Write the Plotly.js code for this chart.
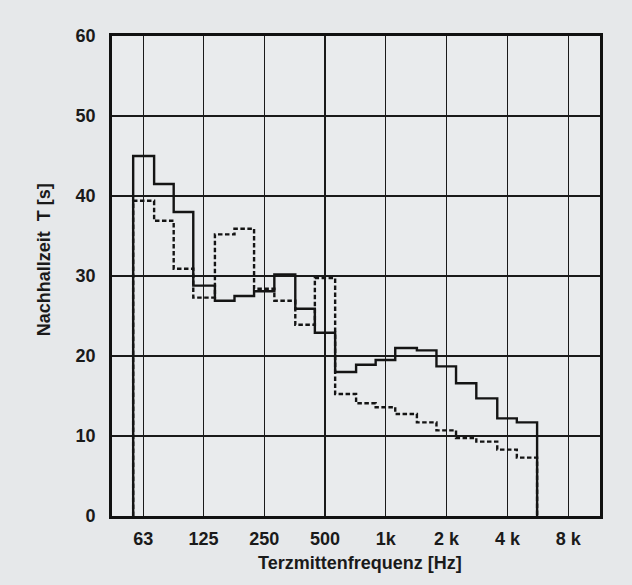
<!DOCTYPE html>
<html>
<head>
<meta charset="utf-8">
<script src="https://cdn.plot.ly/plotly-3.0.1.min.js"></script>
<style>html,body{margin:0;padding:0;background:#e6e8ea;}#chart{width:632px;height:585px;}</style>
</head>
<body>
<div id="chart"></div>
<script>
// Third-octave band centre frequencies (Hz)
var bands = [63, 80, 100, 125, 160, 200, 250, 315, 400, 500, 630, 800, 1000, 1250, 1600, 2000, 2500, 3150, 4000, 5000];
// Reverberation time T [s], solid curve
var solidT = [45.0, 41.5, 38.0, 28.8, 26.9, 27.5, 28.1, 30.2, 25.9, 22.9, 18.0, 18.9, 19.5, 21.0, 20.7, 18.7, 16.6, 14.7, 12.2, 11.7];
// Reverberation time T [s], dashed curve
var dashedT = [39.4, 36.9, 30.9, 27.3, 35.2, 35.9, 28.4, 26.9, 23.9, 29.75, 15.25, 14.1, 13.6, 12.75, 11.7, 10.7, 9.75, 9.3, 8.3, 7.3];
// Octave tick marks
var tickVals = [63, 125, 250, 500, 1000, 2000, 4000, 8000];
var tickText = ['63', '125', '250', '500', '1k', '2 k', '4 k', '8 k'];

var half = Math.pow(2, 1/6);
function stepTrace(vals) {
  var xs = [bands[0] / half], ys = [0];
  for (var i = 0; i < bands.length; i++) { xs.push(bands[i] / half); ys.push(vals[i]); }
  var top = bands[bands.length - 1] * half;
  xs.push(top); ys.push(vals[vals.length - 1]);
  xs.push(top); ys.push(0);
  return {x: xs, y: ys};
}
var s = stepTrace(solidT), d = stepTrace(dashedT);

var font = 'Liberation Sans, Arial, Helvetica, sans-serif';
var traces = [
  {x: d.x, y: d.y, type: 'scatter', mode: 'lines', line: {shape: 'hv', color: '#141414', width: 2.4, dash: '4.5px,2.5px'}, hoverinfo: 'skip'},
  {x: s.x, y: s.y, type: 'scatter', mode: 'lines', line: {shape: 'hv', color: '#141414', width: 2.4}, hoverinfo: 'skip'}
];

var lx0 = Math.log10(63) - 31.3 / 201.97;
var lx1 = Math.log10(63) + 456.7 / 201.97;

var layout = {
  width: 632, height: 585,
  margin: {l: 112, r: 32, t: 36, b: 69, pad: 0},
  paper_bgcolor: '#e6e8ea',
  plot_bgcolor: '#e9ebed',
  showlegend: false,
  font: {family: font, color: '#1a1a1a'},
  xaxis: {
    type: 'log', range: [lx0, lx1],
    tickvals: tickVals, ticktext: tickText,
    showgrid: true, gridcolor: '#1a1a1a', gridwidth: 1.3,
    showline: true, mirror: true, linecolor: '#111', linewidth: 2.8,
    ticks: '', ticklabelstandoff: 5,
    tickfont: {family: font, size: 18, color: '#1a1a1a', weight: 'bold'},
    zeroline: false, fixedrange: true
  },
  yaxis: {
    range: [0, 60], dtick: 10, tick0: 0,
    showgrid: true, gridcolor: '#1a1a1a', gridwidth: 1.3,
    showline: true, mirror: true, linecolor: '#111', linewidth: 2.8,
    ticks: '', ticklabelstandoff: 10,
    tickfont: {family: font, size: 18, color: '#1a1a1a', weight: 'bold'},
    zeroline: false, fixedrange: true
  },
  annotations: [
    {text: 'Terzmittenfrequenz [Hz]', xref: 'paper', yref: 'paper', x: 0.508, y: -0.098,
     xanchor: 'center', yanchor: 'middle', showarrow: false,
     font: {family: font, size: 18, color: '#1a1a1a', weight: 'bold'}},
    {text: 'Nachhallzeit  T [s]', xref: 'paper', yref: 'paper', x: -0.139, y: 0.533,
     xanchor: 'center', yanchor: 'middle', textangle: -90, showarrow: false,
     font: {family: font, size: 18, color: '#1a1a1a', weight: 'bold'}}
  ]
};

Plotly.newPlot('chart', traces, layout, {displayModeBar: false, staticPlot: true});
</script>
</body>
</html>
